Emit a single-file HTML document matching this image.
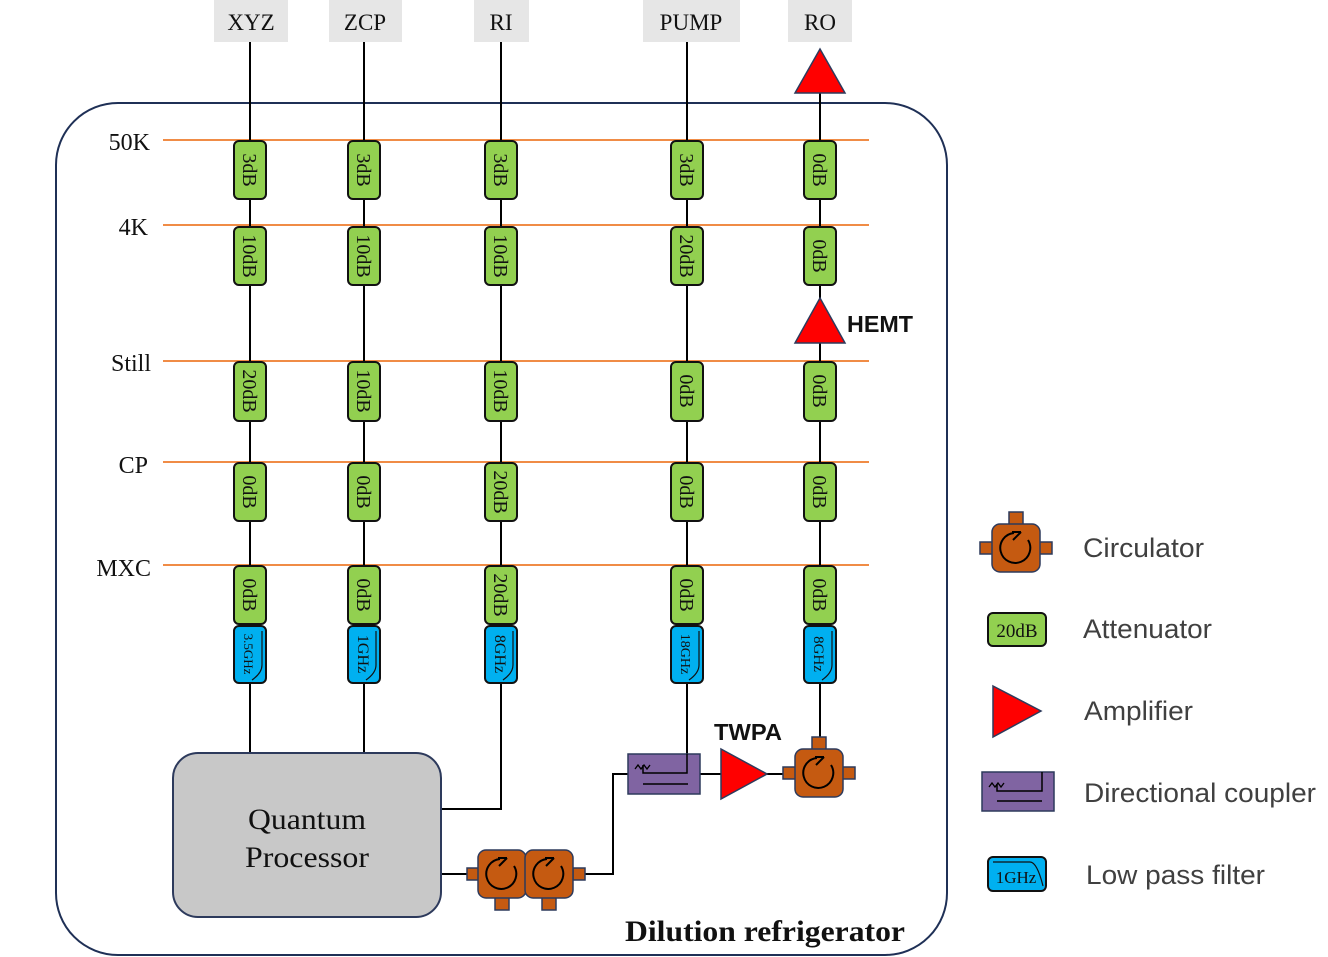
<!DOCTYPE html>
<html><head><meta charset="utf-8"><style>
body{margin:0;background:#fff}
svg{display:block}
.s{font-family:"Liberation Serif",serif}
.a{font-family:"Liberation Sans",sans-serif}
</style></head><body>
<svg width="1328" height="957" viewBox="0 0 1328 957" xmlns="http://www.w3.org/2000/svg">
<defs>
<g id="circ">
 <rect x="-7" y="-36" width="14" height="13" fill="#c55a11" stroke="#2d3a5c" stroke-width="1.5"/>
 <rect x="-36" y="-6" width="13" height="12" fill="#c55a11" stroke="#2d3a5c" stroke-width="1.5"/>
 <rect x="23" y="-6" width="13" height="12" fill="#c55a11" stroke="#2d3a5c" stroke-width="1.5"/>
 <rect x="-24" y="-24" width="48" height="48" rx="8" fill="#c55a11" stroke="#2d3a5c" stroke-width="1.5"/>
 <path d="M-2,-15 A15,15 0 1 0 12,-8" fill="none" stroke="#000" stroke-width="2"/>
 <path d="M-4,-16 L5,-16 M5,-16 L-3,-8" fill="none" stroke="#000" stroke-width="2"/>
</g>
<g id="circb">
 <rect x="-7" y="23" width="14" height="13" fill="#c55a11" stroke="#2d3a5c" stroke-width="1.5"/>
 <rect x="-24" y="-24" width="48" height="48" rx="8" fill="#c55a11" stroke="#2d3a5c" stroke-width="1.5"/>
 <path d="M-2,-15 A15,15 0 1 0 12,-8" fill="none" stroke="#000" stroke-width="2"/>
 <path d="M-4,-16 L5,-16 M5,-16 L-3,-8" fill="none" stroke="#000" stroke-width="2"/>
</g>
</defs>

<rect x="56" y="103" width="891" height="852" rx="62" fill="none" stroke="#1f3056" stroke-width="2"/>

<g fill="#e6e6e6">
<rect x="214" y="0" width="74" height="42"/><rect x="329" y="0" width="73" height="42"/>
<rect x="474" y="0" width="55" height="42"/><rect x="643" y="0" width="97" height="42"/>
<rect x="788" y="0" width="64" height="42"/></g>
<g class="s" font-size="23" text-anchor="middle" fill="#111">
<text x="251" y="30">XYZ</text><text x="365" y="30">ZCP</text><text x="501" y="30">RI</text>
<text x="691" y="30">PUMP</text><text x="820" y="30">RO</text></g>

<g stroke="#f08c46" stroke-width="2">
<line x1="163" y1="140" x2="869" y2="140"/><line x1="163" y1="225" x2="869" y2="225"/>
<line x1="163" y1="361" x2="869" y2="361"/><line x1="163" y1="462" x2="869" y2="462"/>
<line x1="163" y1="565" x2="869" y2="565"/></g>
<g class="s" font-size="24" text-anchor="end" fill="#111">
<text x="150" y="150">50K</text><text x="148" y="235">4K</text><text x="151" y="371">Still</text>
<text x="148" y="473">CP</text><text x="151" y="576">MXC</text></g>

<g stroke="#000" stroke-width="2" fill="none">
<line x1="250" y1="42" x2="250" y2="753"/>
<line x1="364" y1="42" x2="364" y2="753"/>
<polyline points="501,42 501,809 441,809"/>
<polyline points="687,42 687,773 643,773"/>
<line x1="820" y1="93" x2="820" y2="738"/>
<line x1="441" y1="874" x2="467" y2="874"/>
<polyline points="585,874 613,874 613,774 628,774"/>
<line x1="700" y1="774" x2="722" y2="774"/>
<line x1="766" y1="774" x2="784" y2="774"/>
</g>

<g fill="#ff0000" stroke="#2d3a5c" stroke-width="1.5">
<polygon points="820,49 845,93 795,93"/>
<polygon points="820,298 845,343 795,343"/>
<polygon points="721,749 767,774 721,799"/>
<polygon points="993,686 1041,711 993,737"/>
</g>
<g class="a" font-size="23" font-weight="bold" fill="#111">
<text x="847" y="332" textLength="66" lengthAdjust="spacingAndGlyphs">HEMT</text><text x="714" y="740" textLength="68" lengthAdjust="spacingAndGlyphs">TWPA</text></g>

<g fill="#92d050" stroke="#111" stroke-width="2">
<rect x="234" y="141" width="32" height="58" rx="5"/><rect x="234" y="227" width="32" height="58" rx="5"/><rect x="234" y="362" width="32" height="59" rx="5"/><rect x="234" y="463" width="32" height="58" rx="5"/><rect x="234" y="566" width="32" height="58" rx="5"/>
<rect x="348" y="141" width="32" height="58" rx="5"/><rect x="348" y="227" width="32" height="58" rx="5"/><rect x="348" y="362" width="32" height="59" rx="5"/><rect x="348" y="463" width="32" height="58" rx="5"/><rect x="348" y="566" width="32" height="58" rx="5"/>
<rect x="485" y="141" width="32" height="58" rx="5"/><rect x="485" y="227" width="32" height="58" rx="5"/><rect x="485" y="362" width="32" height="59" rx="5"/><rect x="485" y="463" width="32" height="58" rx="5"/><rect x="485" y="566" width="32" height="58" rx="5"/>
<rect x="671" y="141" width="32" height="58" rx="5"/><rect x="671" y="227" width="32" height="58" rx="5"/><rect x="671" y="362" width="32" height="59" rx="5"/><rect x="671" y="463" width="32" height="58" rx="5"/><rect x="671" y="566" width="32" height="58" rx="5"/>
<rect x="804" y="141" width="32" height="58" rx="5"/><rect x="804" y="227" width="32" height="58" rx="5"/><rect x="804" y="362" width="32" height="59" rx="5"/><rect x="804" y="463" width="32" height="58" rx="5"/><rect x="804" y="566" width="32" height="58" rx="5"/>
</g>
<g class="s" font-size="20" text-anchor="middle" fill="#111">
<text transform="translate(243,170) rotate(90)">3dB</text><text transform="translate(243,256) rotate(90)">10dB</text><text transform="translate(243,391) rotate(90)">20dB</text><text transform="translate(243,492) rotate(90)">0dB</text><text transform="translate(243,595) rotate(90)">0dB</text>
<text transform="translate(357,170) rotate(90)">3dB</text><text transform="translate(357,256) rotate(90)">10dB</text><text transform="translate(357,391) rotate(90)">10dB</text><text transform="translate(357,492) rotate(90)">0dB</text><text transform="translate(357,595) rotate(90)">0dB</text>
<text transform="translate(494,170) rotate(90)">3dB</text><text transform="translate(494,256) rotate(90)">10dB</text><text transform="translate(494,391) rotate(90)">10dB</text><text transform="translate(494,492) rotate(90)">20dB</text><text transform="translate(494,595) rotate(90)">20dB</text>
<text transform="translate(680,170) rotate(90)">3dB</text><text transform="translate(680,256) rotate(90)">20dB</text><text transform="translate(680,391) rotate(90)">0dB</text><text transform="translate(680,492) rotate(90)">0dB</text><text transform="translate(680,595) rotate(90)">0dB</text>
<text transform="translate(813,170) rotate(90)">0dB</text><text transform="translate(813,256) rotate(90)">0dB</text><text transform="translate(813,391) rotate(90)">0dB</text><text transform="translate(813,492) rotate(90)">0dB</text><text transform="translate(813,595) rotate(90)">0dB</text>
</g>

<g fill="#00b0f0" stroke="#111" stroke-width="2">
<rect x="234" y="626" width="32" height="57" rx="5"/><rect x="348" y="626" width="32" height="57" rx="5"/>
<rect x="485" y="626" width="32" height="57" rx="5"/><rect x="671" y="626" width="32" height="57" rx="5"/>
<rect x="804" y="626" width="32" height="57" rx="5"/></g>
<g fill="none" stroke="#111" stroke-width="1.2">
<path d="M262,631 L262,665 Q262,673 252,680"/><path d="M376,631 L376,665 Q376,673 366,680"/>
<path d="M513,631 L513,665 Q513,673 503,680"/><path d="M699,631 L699,665 Q699,673 689,680"/>
<path d="M832,631 L832,665 Q832,673 822,680"/></g>
<g class="s" text-anchor="middle" fill="#111">
<text transform="translate(244,654) rotate(90)" font-size="13">3.5GHz</text>
<text transform="translate(358,654) rotate(90)" font-size="16">1GHz</text>
<text transform="translate(495,654) rotate(90)" font-size="16">8GHz</text>
<text transform="translate(681,654) rotate(90)" font-size="14">18GHz</text>
<text transform="translate(814,654) rotate(90)" font-size="15">8GHz</text></g>

<rect x="173" y="753" width="268" height="164" rx="25" fill="#c8c8c8" stroke="#2d3a5c" stroke-width="2"/>
<g class="s" font-size="30" text-anchor="middle" fill="#111">
<text x="307" y="829" textLength="118" lengthAdjust="spacingAndGlyphs">Quantum</text><text x="307" y="867" textLength="124" lengthAdjust="spacingAndGlyphs">Processor</text></g>

<rect x="467" y="868" width="12" height="12" fill="#c55a11" stroke="#2d3a5c" stroke-width="1.5"/>
<rect x="573" y="868" width="12" height="12" fill="#c55a11" stroke="#2d3a5c" stroke-width="1.5"/>
<use href="#circb" x="502" y="874"/>
<use href="#circb" x="549" y="874"/>
<use href="#circ" x="819" y="773"/>
<use href="#circ" x="1016" y="548"/>

<rect x="628" y="754" width="72" height="40" fill="#8064a2" stroke="#2d3a5c" stroke-width="1.5"/>
<polyline points="687,754 687,773 643,773 643,765" fill="none" stroke="#000" stroke-width="1.5"/>
<path d="M635,769 l3,-4 l3,4 l3,-4 l3,4 l3,-4" fill="none" stroke="#000" stroke-width="1.3"/>
<line x1="643" y1="784" x2="688" y2="784" stroke="#000" stroke-width="1.5"/>

<text x="625" y="941" class="s" font-size="30" font-weight="bold" fill="#111" textLength="280" lengthAdjust="spacingAndGlyphs">Dilution refrigerator</text>

<rect x="988" y="613" width="58" height="33" rx="5" fill="#92d050" stroke="#111" stroke-width="2"/>
<text x="1017" y="637" class="s" font-size="19" text-anchor="middle" fill="#111">20dB</text>
<rect x="982" y="772" width="72" height="39" fill="#8064a2" stroke="#2d3a5c" stroke-width="1.5"/>
<polyline points="1042,772 1042,791 997,791 997,784" fill="none" stroke="#000" stroke-width="1.5"/>
<path d="M989,787 l3,-4 l3,4 l3,-4 l3,4 l3,-4" fill="none" stroke="#000" stroke-width="1.3"/>
<line x1="997" y1="801" x2="1042" y2="801" stroke="#000" stroke-width="1.5"/>
<rect x="988" y="857" width="58" height="34" rx="5" fill="#00b0f0" stroke="#111" stroke-width="2"/>
<path d="M993,862 L1030,862 Q1037,862 1043,886" fill="none" stroke="#111" stroke-width="1.2"/>
<text x="1016" y="883" class="s" font-size="17" text-anchor="middle" fill="#111">1GHz</text>
<g class="a" font-size="27" fill="#404040">
<text x="1083" y="557" textLength="121" lengthAdjust="spacingAndGlyphs">Circulator</text>
<text x="1083" y="638" textLength="129" lengthAdjust="spacingAndGlyphs">Attenuator</text>
<text x="1084" y="720" textLength="109" lengthAdjust="spacingAndGlyphs">Amplifier</text>
<text x="1084" y="802" textLength="232" lengthAdjust="spacingAndGlyphs">Directional coupler</text>
<text x="1086" y="884" textLength="179" lengthAdjust="spacingAndGlyphs">Low pass filter</text></g>
</svg>
</body></html>
